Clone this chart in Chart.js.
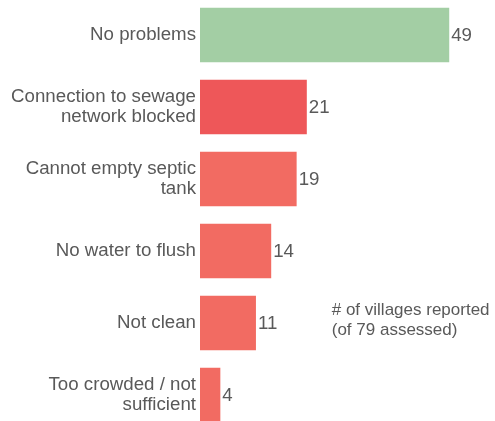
<!DOCTYPE html>
<html>
<head>
<meta charset="utf-8">
<script src="https://cdn.jsdelivr.net/npm/chart.js@4"></script>
<style>
  html, body { margin: 0; padding: 0; background: #fff; overflow: hidden; }
  #wrap { position: absolute; left: 0; top: -1px; width: 495px; height: 432px; }
</style>
</head>
<body>
<div id="wrap"><canvas id="chart"></canvas></div>
<script>
// categories and counts
const categories = [
    'No problems',
    ['Connection to sewage', 'network blocked'],
    ['Cannot empty septic', 'tank'],
    'No water to flush',
    'Not clean',
    ['Too crowded / not', 'sufficient']
];
const villages = [49, 21, 19, 14, 11, 4];
const barColors = ['#a3cea4', '#ee5759', '#f26b62', '#f26b62', '#f26b62', '#f26b62'];
const noteLines = ['# of villages reported', '(of 79 assessed)'];

const textColor = '#595959';
const fontFamily = "'Liberation Sans', Arial, sans-serif";

// writes the count just past the end of each bar, and the side note
const valueLabels = {
    id: 'valueLabels',
    afterDatasetsDraw(chart) {
        const ctx = chart.ctx;
        const meta = chart.getDatasetMeta(0);
        ctx.save();
        ctx.fillStyle = textColor;
        ctx.font = '18.7px ' + fontFamily;
        ctx.textAlign = 'left';
        ctx.textBaseline = 'middle';
        meta.data.forEach((bar, i) => {
            ctx.fillText(String(villages[i]), bar.x + 2, bar.y + 1);
        });

        ctx.font = '17px ' + fontFamily;
        ctx.textBaseline = 'alphabetic';
        const x = chart.scales.x.getPixelForValue(25.9);
        const yMid = meta.data[4].y;
        ctx.fillText(noteLines[0], x, yMid - 8);
        ctx.fillText(noteLines[1], x, yMid + 12);
        ctx.restore();
    }
};

new Chart(document.getElementById('chart').getContext('2d'), {
    type: 'bar',
    data: {
        labels: categories,
        datasets: [{
            data: villages,
            backgroundColor: barColors,
            borderWidth: 0,
            barPercentage: 0.76,
            categoryPercentage: 1
        }]
    },
    options: {
        indexAxis: 'y',
        responsive: true,
        maintainAspectRatio: false,
        animation: false,
        layout: { padding: 0 },
        plugins: {
            legend: { display: false },
            tooltip: { enabled: false }
        },
        scales: {
            x: {
                display: false,
                min: 0,
                max: 58
            },
            y: {
                grid: { display: false, drawTicks: false },
                border: { display: false },
                ticks: {
                    color: textColor,
                    padding: 4,
                    autoSkip: false,
                    maxRotation: 0,
                    font: { family: fontFamily, size: 18.7, lineHeight: 1.1 }
                },
                afterFit(scale) {
                    scale.width = 200;
                    // labels sit mid-band, so no extra room above/below
                    scale.paddingTop = 0;
                    scale.paddingBottom = 0;
                }
            }
        }
    },
    plugins: [valueLabels]
});
</script>
</body>
</html>
